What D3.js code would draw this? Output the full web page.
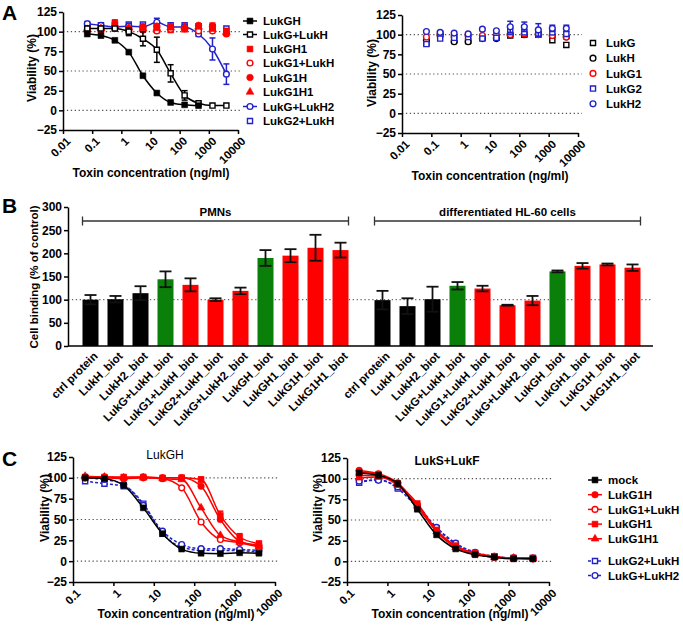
<!DOCTYPE html>
<html>
<head>
<meta charset="utf-8">
<script src="https://cdn.jsdelivr.net/npm/d3@7"></script>
<style>
  body { margin: 0; background: #fff; }
</style>
</head>
<body>
<svg id="fig" width="683" height="630"></svg>
<script>
// ---- data ----
// toxin concentrations (ng/ml), 3-fold dilutions
const concA = [0.068, 0.2, 0.6, 1.8, 5.5, 16.5, 49, 148, 444, 1333, 4000];
const concC = [0.2, 0.6, 1.8, 5.5, 16.5, 49, 148, 444, 1333, 4000];
const logTicksA = [0.01, 0.1, 1, 10, 100, 1000, 10000];
const logTicksC = [0.1, 1, 10, 100, 1000, 10000];
const viabTicks = [-25, 0, 25, 50, 75, 100, 125];

// panel A, left
const aLukGH = [97, 95, 89, 74, 44, 22, 10, 7, 6];
const aLukGLukH = [104, 104, 104, 100, 91, 77, 47, 19, 9, 6, 6];
const aLukGLukHErr = [2, 2, 2, 5, 9, 16, 11, 6, 2, 1, 1];
const aLukGH1 = [104, 102, 111, 103, 103, 102, 102, 103, 104, 106, 101];
const aLukGH1Err = [3, 2, 4, 2, 2, 2, 2, 2, 2, 5, 2];
const aLukG1LukH = [101, 103, 104, 101, 102, 101, 103, 104, 101, 101, 97];
const aLukG1H = [102, 104, 106, 104, 106, 107, 106, 104, 108, 107, 98];
const aLukG1H1 = [103, 104, 108, 105, 104, 104, 105, 106, 106, 103, 99];
const aLukGLukH2 = [110, 108, 106, 107, 106, 112, 106, 106, 97, 78, 46];
const aLukGLukH2Err = [3, 2, 2, 2, 3, 5, 2, 2, 3, 14, 13];
const aLukG2LukH = [108, 108, 108, 109, 109, 108, 108, 108, 107, 106, 104];

// panel A, right (single components)
const rLukG = [89, 101, 93, 92, 96, 96, 99, 100, 100, 93, 87];
const rLukH = [93, 100, 91, 91, 95, 95, 100, 100, 101, 99, 97];
const rLukG1 = [97, 99, 98, 99, 99, 100, 100, 101, 100, 99, 97];
const rLukG2 = [88, 95, 96, 97, 95, 96, 104, 103, 101, 103, 101];
const rLukG2Err = [2, 2, 2, 2, 2, 2, 4, 3, 3, 3, 3];
const rLukH2 = [104, 103, 102, 101, 107, 105, 110, 110, 106, 108, 108];
const rLukH2Err = [2, 2, 2, 2, 2, 2, 7, 6, 8, 4, 4];

// panel B
const bLabels = ["ctrl protein", "LukH_biot", "LukH2_biot", "LukG+LukH_biot", "LukG1+LukH_biot",
  "LukG2+LukH_biot", "LukG+LukH2_biot", "LukGH_biot", "LukGH1_biot", "LukG1H_biot", "LukG1H1_biot"];
const bKind = ["control", "control", "control", "wild type", "mutant", "mutant", "mutant",
  "wild type", "mutant", "mutant", "mutant"];
const pmnMean = [100, 101, 114, 144, 132, 100, 119, 190, 195, 212, 207];
const pmnErr = [10, 7, 15, 17, 14, 3, 7, 17, 14, 28, 16];
const hlMean = [99, 86, 101, 130, 124, 88, 98, 161, 173, 176, 169];
const hlErr = [20, 17, 27, 8, 6, 1, 10, 2, 6, 2, 7];
const bTicks = [0, 50, 100, 150, 200, 250, 300];

// panel C, left (LukGH as toxin)
const cMock = [100, 99, 91, 64, 33, 14.5, 9.5, 9, 10, 9.5];
const cLukG1H = [101, 101, 100, 101, 100, 100, 90, 50, 24, 19];
const cLukG1LukH = [100, 100, 99, 100, 99, 88, 47, 26, 22, 17];
const cLukGH1 = [101, 101, 101, 101, 100, 100, 98, 55, 29, 21];
const cLukGH1Err = [2, 2, 2, 2, 2, 3, 3, 5, 4, 3];
const cLukG1H1 = [102, 101, 100, 100, 99, 98, 64, 31, 23, 18];
const cLukG2LukH = [96, 93, 90, 69, 33, 17, 13, 13, 12.5, 11];
const cLukGLukH2 = [100, 98, 92, 67, 36, 20, 15, 15, 14, 13];

// panel C, right (LukS+LukF as toxin)
const sMock = [107, 104, 94, 63, 32, 15, 8, 5, 3, 3];
const sLukG1H = [110, 106, 95, 68, 36, 17, 9, 5, 4, 3];
const sLukG1LukH = [104, 103, 94, 66, 37, 18, 9, 5, 4, 3];
const sLukGH1 = [108, 105, 93, 70, 38, 19, 10, 6, 4, 4];
const sLukG1H1 = [101, 102, 92, 67, 36, 17, 9, 5, 4, 3];
const sLukG2LukH = [95, 99, 88, 65, 40, 21, 10, 6, 4, 4];
const sLukGLukH2 = [97, 98, 90, 68, 41, 22, 11, 6, 4, 4];

// ---- drawing ----
const FONT = '"Liberation Sans", Arial, Helvetica, sans-serif';
const RED = "#ff0000", BLUE = "#2222c8", GREEN = "#0a7f0a", BLACK = "#000";
const svg = d3.select("#fig").attr("font-family", FONT).attr("font-weight", "bold");

function styleAxis(g, size) {
  g.attr("font-family", FONT).attr("font-size", size).attr("font-weight", "bold");
  g.select(".domain").attr("stroke-width", 1.5);
  g.selectAll(".tick line").attr("stroke-width", 1.5);
}

function marker(sel, s) {
  const area = s.shape === d3.symbolTriangle ? 26 : (s.open ? 26 : 34);
  sel.attr("d", d3.symbol(s.shape, area)())
    .attr("fill", s.open ? "#fff" : s.color)
    .attr("stroke", s.color)
    .attr("stroke-width", s.open ? 1.4 : 0.6);
}

function dosePanel(o) {
  const g = svg.append("g");
  const x = d3.scaleLog().domain(o.xDomain).range(o.xRange);
  const y = d3.scaleLinear().domain([-25, 125]).range(o.yRange);

  g.selectAll(".ref").data([0, 50, 100]).join("line")
    .attr("x1", o.xRange[0]).attr("x2", o.xRange[1] + 4)
    .attr("y1", d => y(d)).attr("y2", d => y(d))
    .attr("stroke", "#555").attr("stroke-width", 1.2)
    .attr("stroke-dasharray", "1.3,2.6");

  const ya = g.append("g").attr("transform", `translate(${o.xRange[0]},0)`)
    .call(d3.axisLeft(y).tickValues(viabTicks).tickSize(4).tickSizeOuter(0).tickPadding(2));
  styleAxis(ya, 12);

  const xa = g.append("g").attr("transform", `translate(0,${o.yRange[0]})`)
    .call(d3.axisBottom(x).tickValues(o.xTicks).tickFormat(d3.format("~g")).tickSize(4).tickSizeOuter(0));
  styleAxis(xa, 11.5);
  xa.selectAll(".tick text")
    .attr("x", 0).attr("y", 0).attr("dy", "0.35em")
    .attr("transform", "translate(5,9) rotate(-45)")
    .style("text-anchor", "end");

  const line = d3.line().x(d => x(d.c)).y(d => y(d.v)).curve(d3.curveMonotoneX);

  o.series.forEach(s => {
    const pts = s.vals.map((v, i) => ({ c: s.conc[i], v: v, e: s.err ? s.err[i] : 0 }));
    if (s.line) {
      g.append("path").datum(pts).attr("d", line)
        .attr("fill", "none").attr("stroke", s.color).attr("stroke-width", 1.5)
        .attr("stroke-dasharray", s.dash || null);
    }
    const eb = g.append("g").attr("stroke", s.color).attr("stroke-width", 1.5);
    pts.filter(d => d.e > 2.5).forEach(d => {
      const cx = x(d.c);
      eb.append("line").attr("x1", cx).attr("x2", cx).attr("y1", y(d.v - d.e)).attr("y2", y(d.v + d.e));
      [d.v - d.e, d.v + d.e].forEach(t => eb.append("line")
        .attr("x1", cx - 3).attr("x2", cx + 3).attr("y1", y(t)).attr("y2", y(t)));
    });
    g.append("g").selectAll("path").data(pts).join("path")
      .attr("transform", d => `translate(${x(d.c)},${y(d.v)})`)
      .call(marker, s);
  });

  // axis titles
  g.append("text").attr("transform", `translate(${o.yTitle[0]},${o.yTitle[1]}) rotate(-90)`)
    .attr("text-anchor", "middle").attr("font-size", 12).text("Viability (%)");
  g.append("text").attr("x", o.xTitle[0]).attr("y", o.xTitle[1])
    .attr("text-anchor", "middle").attr("font-size", 12).text("Toxin concentration (ng/ml)");
  if (o.title) {
    g.append("text").attr("x", o.title[0]).attr("y", o.title[1]).attr("text-anchor", "middle")
      .attr("font-size", 12).attr("font-weight", o.titleWeight).text(o.title[2]);
  }
}

function legend(items, x0, rows) {
  const g = svg.append("g");
  items.forEach((s, i) => {
    const yy = rows[i];
    if (s.line) {
      g.append("line").attr("x1", x0 - 7).attr("x2", x0 + 7).attr("y1", yy).attr("y2", yy)
        .attr("stroke", s.color).attr("stroke-width", 1.5).attr("stroke-dasharray", s.dash || null);
    }
    g.append("path").attr("transform", `translate(${x0},${yy})`).call(marker, s);
    g.append("text").attr("x", x0 + 13).attr("y", yy).attr("dy", "0.36em")
      .attr("font-size", 11.5).text(s.name);
  });
}

// ---- panel A left ----
const seriesAL = [
  { name: "LukGH", conc: concA, vals: aLukGH, color: BLACK, shape: d3.symbolSquare, line: true },
  { name: "LukG+LukH", conc: concA, vals: aLukGLukH, err: aLukGLukHErr, color: BLACK, shape: d3.symbolSquare, open: true, line: true },
  { name: "LukGH1", conc: concA, vals: aLukGH1, err: aLukGH1Err, color: RED, shape: d3.symbolSquare },
  { name: "LukG1+LukH", conc: concA, vals: aLukG1LukH, color: RED, shape: d3.symbolCircle, open: true },
  { name: "LukG1H", conc: concA, vals: aLukG1H, color: RED, shape: d3.symbolCircle },
  { name: "LukG1H1", conc: concA, vals: aLukG1H1, color: RED, shape: d3.symbolTriangle },
  { name: "LukG+LukH2", conc: concA, vals: aLukGLukH2, err: aLukGLukH2Err, color: BLUE, shape: d3.symbolCircle, open: true, line: true },
  { name: "LukG2+LukH", conc: concA, vals: aLukG2LukH, color: BLUE, shape: d3.symbolSquare, open: true }
];
const drawOrderAL = [7, 6, 2, 3, 4, 5, 1, 0];
dosePanel({
  xDomain: [0.01, 10000], xRange: [63, 238], yRange: [130, 12], xTicks: logTicksA,
  series: drawOrderAL.map(i => seriesAL[i]),
  yTitle: [36, 68], xTitle: [151, 177]
});
legend(seriesAL, 250, [21, 34.5, 49, 63, 77.5, 92, 106.5, 121]);

// ---- panel A right ----
const seriesAR = [
  { name: "LukG", conc: concA, vals: rLukG, color: BLACK, shape: d3.symbolSquare, open: true },
  { name: "LukH", conc: concA, vals: rLukH, color: BLACK, shape: d3.symbolCircle, open: true },
  { name: "LukG1", conc: concA, vals: rLukG1, color: RED, shape: d3.symbolCircle, open: true },
  { name: "LukG2", conc: concA, vals: rLukG2, err: rLukG2Err, color: BLUE, shape: d3.symbolSquare, open: true },
  { name: "LukH2", conc: concA, vals: rLukH2, err: rLukH2Err, color: BLUE, shape: d3.symbolCircle, open: true }
];
dosePanel({
  xDomain: [0.01, 10000], xRange: [402, 578], yRange: [133, 15], xTicks: logTicksA,
  series: seriesAR,
  yTitle: [376, 73], xTitle: [490, 180]
});
legend(seriesAR, 593, [43, 58.2, 73.4, 88.6, 103.8]);

// ---- panel B ----
const yB = d3.scaleLinear().domain([0, 300]).range([346, 207]);
const kindColor = d3.scaleOrdinal().domain(["control", "wild type", "mutant"]).range([BLACK, GREEN, RED]);
const groupsB = [
  { title: "PMNs", mean: pmnMean, err: pmnErr,
    x: d3.scaleBand().domain(bLabels).range([78, 353]).paddingInner(0.36).paddingOuter(0.18) },
  { title: "differentiated HL-60 cells", mean: hlMean, err: hlErr,
    x: d3.scaleBand().domain(bLabels).range([370, 645]).paddingInner(0.36).paddingOuter(0.18) }
];
const gB = svg.append("g");
gB.append("line").attr("x1", 68).attr("x2", 653).attr("y1", yB(100)).attr("y2", yB(100))
  .attr("stroke", "#666").attr("stroke-width", 1.2).attr("stroke-dasharray", "1.3,2.6");
groupsB.forEach(grp => {
  const bw = grp.x.bandwidth();
  const rows = bLabels.map((l, i) => ({ label: l, kind: bKind[i], v: grp.mean[i], e: grp.err[i] }));
  gB.append("g").selectAll("rect").data(rows).join("rect")
    .attr("x", d => grp.x(d.label)).attr("width", bw)
    .attr("y", d => yB(d.v)).attr("height", d => yB(0) - yB(d.v))
    .attr("fill", d => kindColor(d.kind));
  const eb = gB.append("g").attr("stroke", "#111").attr("stroke-width", 1.8);
  rows.forEach(d => {
    const cx = grp.x(d.label) + bw / 2;
    eb.append("line").attr("x1", cx).attr("x2", cx).attr("y1", yB(d.v - d.e)).attr("y2", yB(d.v + d.e));
    [d.v - d.e, d.v + d.e].forEach(t => eb.append("line")
      .attr("x1", cx - 6).attr("x2", cx + 6).attr("y1", yB(t)).attr("y2", yB(t)));
  });
  gB.append("g").selectAll("text").data(rows).join("text")
    .attr("transform", d => `translate(${grp.x(d.label) + bw / 2 + 5},${354}) rotate(-45)`)
    .attr("text-anchor", "end").attr("dy", "0.35em").attr("font-size", 11.5)
    .text(d => d.label);
  // bracket
  const x1 = grp.x(bLabels[0]), x2 = grp.x(bLabels[bLabels.length - 1]) + bw;
  const bg = gB.append("g").attr("stroke", "#333").attr("stroke-width", 1.3);
  bg.append("line").attr("x1", x1).attr("x2", x2).attr("y1", 221).attr("y2", 221);
  [x1, x2].forEach(xx => bg.append("line").attr("x1", xx).attr("x2", xx).attr("y1", 216.5).attr("y2", 225.5));
  gB.append("text").attr("x", (x1 + x2) / 2).attr("y", 215.5).attr("text-anchor", "middle")
    .attr("font-size", 11.5).text(grp.title);
});
const yaB = gB.append("g").attr("transform", "translate(68,0)")
  .call(d3.axisLeft(yB).tickValues(bTicks).tickSize(4).tickSizeOuter(0).tickPadding(2));
styleAxis(yaB, 12);
gB.append("line").attr("x1", 68).attr("x2", 653).attr("y1", yB(0)).attr("y2", yB(0))
  .attr("stroke", "#000").attr("stroke-width", 1.5);
gB.append("text").attr("transform", "translate(38,277) rotate(-90)")
  .attr("text-anchor", "middle").attr("font-size", 11.5).text("Cell binding (% of control)");

// ---- panel C ----
const cStyle = [
  { name: "mock", color: BLACK, shape: d3.symbolSquare, line: true },
  { name: "LukG1H", color: RED, shape: d3.symbolCircle, line: true },
  { name: "LukG1+LukH", color: RED, shape: d3.symbolCircle, open: true, line: true },
  { name: "LukGH1", color: RED, shape: d3.symbolSquare, line: true },
  { name: "LukG1H1", color: RED, shape: d3.symbolTriangle, line: true },
  { name: "LukG2+LukH", color: BLUE, shape: d3.symbolSquare, open: true, line: true, dash: "3,2" },
  { name: "LukG+LukH2", color: BLUE, shape: d3.symbolCircle, open: true, line: true, dash: "3,2" }
];
const cLeftVals = [cMock, cLukG1H, cLukG1LukH, cLukGH1, cLukG1H1, cLukG2LukH, cLukGLukH2];
const cRightVals = [sMock, sLukG1H, sLukG1LukH, sLukGH1, sLukG1H1, sLukG2LukH, sLukGLukH2];
const drawOrderC = [5, 6, 2, 4, 1, 3, 0];
dosePanel({
  xDomain: [0.1, 10000], xRange: [73, 275], yRange: [582, 457], xTicks: logTicksC,
  series: drawOrderC.map(i => Object.assign({}, cStyle[i], {
    conc: concC, vals: cLeftVals[i], err: i === 3 ? cLukGH1Err : null })),
  yTitle: [49, 508], xTitle: [176, 618], title: [165, 459, "LukGH"], titleWeight: "normal"
});
dosePanel({
  xDomain: [0.1, 10000], xRange: [347, 549], yRange: [582, 458], xTicks: logTicksC,
  series: drawOrderC.map(i => Object.assign({}, cStyle[i], { conc: concC, vals: cRightVals[i] })),
  yTitle: [322, 508], xTitle: [450, 618], title: [447, 465, "LukS+LukF"], titleWeight: "bold"
});
legend(cStyle, 595, [480, 494.7, 509.4, 524.1, 538.8, 561, 575.5]);

// ---- panel letters ----
[["A", 2, 20], ["B", 2, 213], ["C", 2, 466]].forEach(([t, x, y]) =>
  svg.append("text").attr("x", x).attr("y", y).attr("font-size", 21).text(t));
</script>
</body>
</html>
